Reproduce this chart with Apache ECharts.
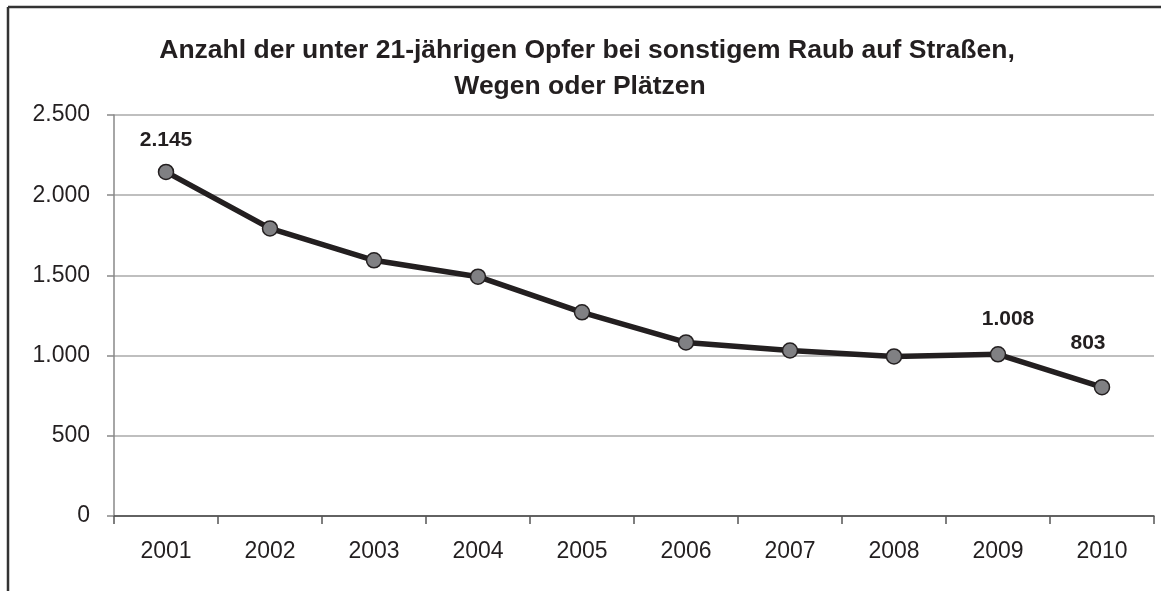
<!DOCTYPE html>
<html>
<head>
<meta charset="utf-8">
<script src="https://cdn.jsdelivr.net/npm/echarts@6/dist/echarts.min.js"></script>
<style>
  html, body { margin: 0; padding: 0; background: #fff; }
  #chart { width: 1161px; height: 591px; }
</style>
</head>
<body>
<div id="chart"></div>
<script>
// data
const years = ['2001', '2002', '2003', '2004', '2005', '2006', '2007', '2008', '2009', '2010'];
const victims = [2145, 1793, 1594, 1492, 1270, 1082, 1032, 995, 1008, 803];
const yTicks = [0, 500, 1000, 1500, 2000, 2500];
const titleLines = ['Anzahl der unter 21-jährigen Opfer bei sonstigem Raub auf Straßen,', 'Wegen oder Plätzen'];

// which points carry a value label, and how far the label sits from it
const labelled = { 0: [0, 0, 13], 8: [10, 0, 16], 9: [-14, 0, 25] };

const fmt = (v) => String(v).replace(/\B(?=(\d{3})+(?!\d))/g, '.');

const chart = echarts.init(document.getElementById('chart'));

const seriesData = victims.map((v, i) => {
  const l = labelled[i];
  if (!l) return v;
  return {
    value: v,
    label: {
      show: true,
      position: 'top',
      offset: [l[0], l[1]],
      distance: l[2],
      formatter: (d) => fmt(d.value),
      fontFamily: 'Liberation Sans',
      fontSize: 21,
      fontWeight: 'bold',
      color: '#231f20'
    }
  };
});

const titleStyle = {
  fontFamily: 'Liberation Sans',
  fontSize: 26.5,
  fontWeight: 'bold',
  lineHeight: 36,
  color: '#231f20'
};

chart.setOption({
  animation: false,
  backgroundColor: '#fff',
  textStyle: { fontFamily: 'Liberation Sans' },
  title: [
    { text: titleLines[0], left: 582, top: 28, textAlign: 'center', textStyle: titleStyle },
    { text: titleLines[1], left: 575, top: 64, textAlign: 'center', textStyle: titleStyle }
  ],
  grid: { left: 114, right: 7, top: 115, bottom: 75, containLabel: false },
  xAxis: {
    type: 'category',
    data: years,
    boundaryGap: true,
    axisLine: { lineStyle: { color: '#444', width: 1.5 } },
    axisTick: { show: true, length: 8, alignWithLabel: false, lineStyle: { color: '#555', width: 1.5 } },
    axisLabel: { fontSize: 23, color: '#231f20', margin: 24 },
    splitLine: { show: false }
  },
  yAxis: {
    type: 'value',
    min: yTicks[0],
    max: yTicks[yTicks.length - 1],
    interval: 500,
    axisLine: { show: true, lineStyle: { color: '#888', width: 1.5 } },
    axisTick: { show: true, length: 7, lineStyle: { color: '#888', width: 1.5 } },
    axisLabel: { fontSize: 23, color: '#231f20', margin: 24, formatter: fmt },
    splitLine: { show: true, lineStyle: { color: '#aaa', width: 1.5 } }
  },
  series: [{
    type: 'line',
    data: seriesData,
    symbol: 'circle',
    symbolSize: 15,
    lineStyle: { color: '#231f20', width: 5.5 },
    itemStyle: { color: '#808083', borderColor: '#231f20', borderWidth: 1.5 },
    label: { show: false },
    z: 5
  }],
  graphic: [
    { type: 'line', shape: { x1: 8, y1: 7, x2: 8, y2: 591 }, style: { stroke: '#333', lineWidth: 2.5 } },
    { type: 'line', shape: { x1: 8, y1: 7, x2: 1161, y2: 7 }, style: { stroke: '#333', lineWidth: 2.5 } }
  ]
});
</script>
</body>
</html>
